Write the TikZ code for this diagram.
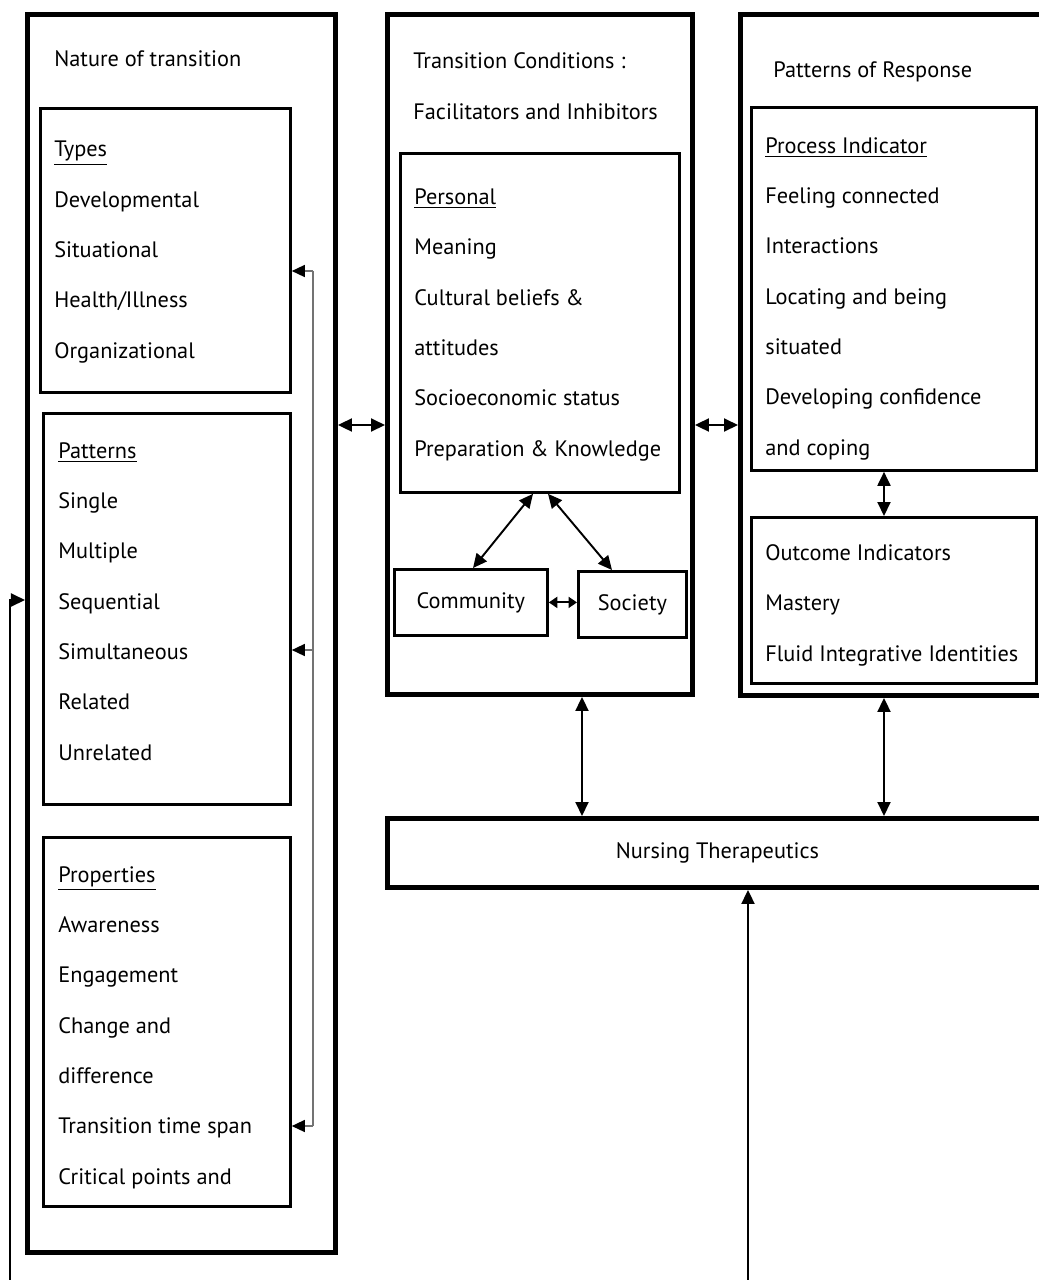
\documentclass[tikz,border=0pt]{standalone}
\usepackage{fontspec}
\setmainfont{PT Sans}
\usetikzlibrary{arrows.meta,positioning}

\begin{document}
\begin{tikzpicture}[x=0.2mm, y=-0.2mm,
  frame/.style={draw, line width=2.8pt, anchor=north west, inner sep=0pt},
  panel/.style={draw, line width=1.6pt, anchor=north west, inner sep=0pt,
                font=\fontsize{12.7}{15}\selectfont},
  txt/.style={anchor=base west, align=left, inner sep=0pt,
              font=\fontsize{12.7}{28.6}\selectfont},
  dbl/.style={{Triangle[length=2.8mm,width=2.6mm]}-{Triangle[length=2.8mm,width=2.6mm]},
              line width=1.1pt},
  dblshort/.style={{Triangle[length=1.7mm,width=2.2mm]}-{Triangle[length=1.7mm,width=2.2mm]},
              line width=1.1pt},
  arr/.style={-{Triangle[length=2.8mm,width=2.6mm]}, line width=1.1pt},
  back/.style={-{Triangle[length=2.6mm,width=2.4mm,black]}, line width=0.8pt,
               draw=black!55}]
  \useasboundingbox (0,0) rectangle (1039,1280);
  \clip (0,0) rectangle (1039,1280);

  % nature of transition (text nodes sit on their last baseline)
  \node[frame, minimum width=61.6mm, minimum height=247.6mm] (nature) at (25,12) {};
  \node[txt] (naturetxt) at (54,66) {Nature of transition};
  \node[panel, minimum width=50mm, minimum height=56.8mm] (types) at (39,107) {};
  \node[txt] (typestxt) at (54,358)
    {\underline{Types}\\ Developmental\\ Situational\\ Health/Illness\\ Organizational};
  \node[panel, minimum width=49.4mm, minimum height=78.2mm] (patterns) at (42,412) {};
  \node[txt] (patternstxt) at (58,760)
    {\underline{Patterns}\\ Single\\ Multiple\\ Sequential\\ Simultaneous\\ Related\\ Unrelated};
  \node[panel, minimum width=49.4mm, minimum height=73.8mm] (props) at (42,836) {};
  \node[txt] (propstxt) at (58,1184)
    {\underline{Properties}\\ Awareness\\ Engagement\\ Change and\\ difference\\
     Transition time span\\ Critical points and};

  % transition conditions
  \node[frame, minimum width=61mm, minimum height=136mm] (cond) at (385,12) {};
  \node[txt] (condtxt) at (413,119)
    {Transition Conditions :\\ Facilitators and Inhibitors};
  \node[panel, minimum width=55.8mm, minimum height=67.8mm] (personal) at (399,152) {};
  \node[txt] (personaltxt) at (414,456)
    {\underline{Personal}\\ Meaning\\ Cultural beliefs \&\\ attitudes\\
     Socioeconomic status\\ Preparation \& Knowledge};
  \node[panel, minimum width=30.6mm, minimum height=13.2mm] (community) at (393,568) {Community};
  \node[panel, minimum width=21.6mm, minimum height=13.2mm] (society) at (577,570) {Society};

  % patterns of response
  \node[frame, minimum width=62.4mm, minimum height=136.2mm] (resp) at (738,12) {};
  \node[txt] (resptxt) at (773,77) {Patterns of Response};
  \node[panel, minimum width=57mm, minimum height=72.6mm] (process) at (750,106) {};
  \node[txt] (processtxt) at (765,455)
    {\underline{Process Indicator}\\ Feeling connected\\ Interactions\\
     Locating and being\\ situated\\ Developing confidence\\ and coping};
  \node[panel, minimum width=57mm, minimum height=33.2mm] (outcome) at (750,516) {};
  \node[txt] (outcometxt) at (765,661)
    {Outcome Indicators\\ Mastery\\ Fluid Integrative Identities};

  \node[frame, minimum width=132mm, minimum height=13.8mm,
        font=\fontsize{12.7}{15}\selectfont] (nursing) at (385,816) {Nursing Therapeutics};

  % connectors
  \draw[dbl] (nature.east |- 0,425) -- (cond.west |- 0,425);
  \draw[dbl] (cond.east |- 0,425) -- (resp.west |- 0,425);
  \draw[dbl] (personal.south -| 533,0) -- (community.north -| 473,0);
  \draw[dbl] (personal.south -| 548,0) -- (society.north -| 612,0);
  \draw[dblshort] (community.east) -- (community.east -| society.west);
  \draw[dbl] (process.south -| 884,0) -- (outcome.north -| 884,0);
  \draw[dbl] (cond.south -| 582,0) -- (nursing.north -| 582,0);
  \draw[dbl] (resp.south -| 884,0) -- (nursing.north -| 884,0);

  \coordinate (foot) at (748,1280);
  \draw[arr] (foot) -- (nursing.south -| foot);
  \coordinate (lfoot) at (10,1280);
  \draw[arr] (lfoot) |- (nature.west |- 0,600);

  % feedback bus
  \coordinate (bustop) at (313,271);
  \coordinate (busmid) at (313,650);
  \coordinate (busbot) at (313,1126);
  \draw[line width=0.8pt, black!55] (bustop) -- (busbot);
  \draw[back] (bustop) -- (types.east |- bustop);
  \draw[back] (busmid) -- (patterns.east |- busmid);
  \draw[back] (busbot) -- (props.east |- busbot);
\end{tikzpicture}
\end{document}
